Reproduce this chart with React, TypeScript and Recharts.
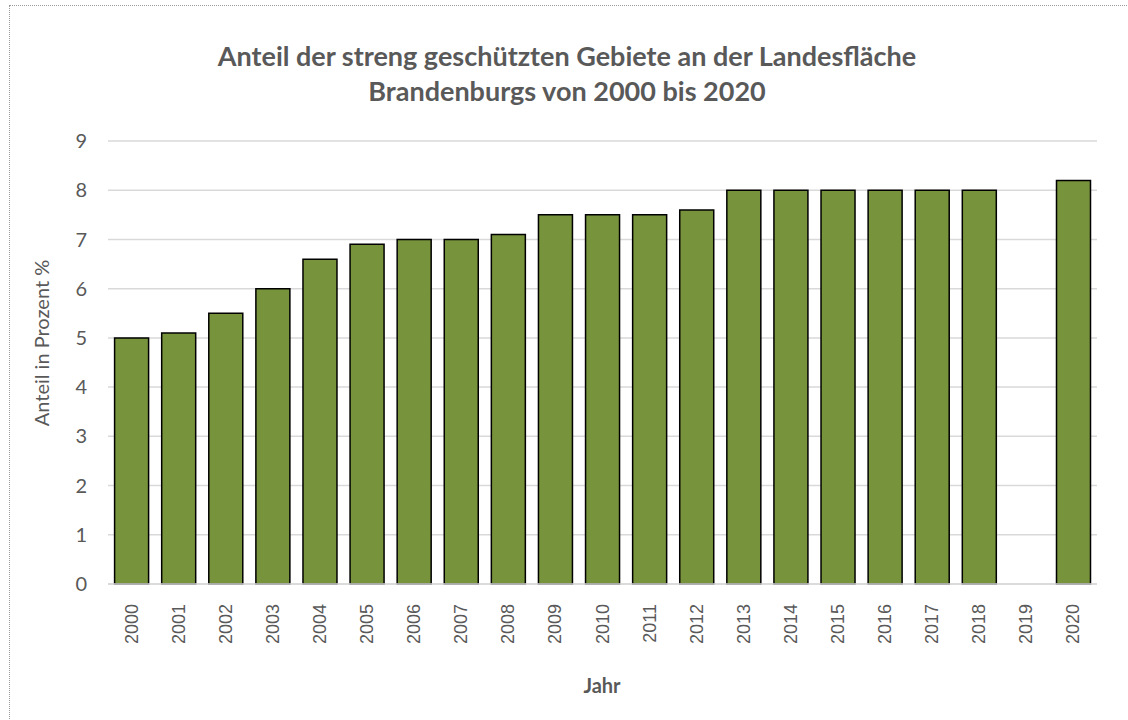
import React from 'react';
import { BarChart, Bar, XAxis, YAxis, CartesianGrid } from 'recharts';

const years = ['2000', '2001', '2002', '2003', '2004', '2005', '2006', '2007', '2008', '2009', '2010',
  '2011', '2012', '2013', '2014', '2015', '2016', '2017', '2018', '2019', '2020'];
const shares: (number | null)[] = [5, 5.1, 5.5, 6, 6.6, 6.9, 7, 7, 7.1, 7.5, 7.5,
  7.5, 7.6, 8, 8, 8, 8, 8, 8, null, 8.2];
const yTicks = [0, 1, 2, 3, 4, 5, 6, 7, 8, 9];

const data = years.map((jahr, i) => ({ jahr, anteil: shares[i] }));

const grey = '#595959';

function YearTick({ x, y, payload }: any) {
  return (
    <text
      x={x}
      y={y + 12}
      transform={`rotate(-90 ${x} ${y + 12})`}
      textAnchor="end"
      dominantBaseline="central"
      fontFamily="Liberation Sans, Arial, sans-serif"
      fontSize={18}
      fill={grey}
    >
      {payload.value}
    </text>
  );
}

export default function App() {
  return (
    <div style={{ position: 'absolute', left: 0, top: 0, width: 1128, height: 720, background: '#fff', overflow: 'hidden' }}>
      <div style={{
        position: 'absolute', left: 9, top: 5, width: 1140, height: 740,
        border: '1px dotted #9a9a9a',
      }} />
      <div style={{
        position: 'absolute', left: 9, top: 38, width: 1116, textAlign: 'center',
        fontFamily: 'Lato, "Open Sans", sans-serif', fontWeight: 700, fontSize: 27,
        lineHeight: '35px', color: grey,
      }}>
        Anteil der streng geschützten Gebiete an der Landesfläche<br />
        Brandenburgs von 2000 bis 2020
      </div>
      <div style={{
        position: 'absolute', left: 41, top: 343, width: 0, height: 0,
      }}>
        <div style={{
          position: 'absolute', transform: 'translate(-50%, -50%) rotate(-90deg)',
          whiteSpace: 'nowrap', fontFamily: 'Lato, sans-serif', fontSize: 20, color: grey,
        }}>
          Anteil in Prozent %
        </div>
      </div>
      <div style={{
        position: 'absolute', left: 502, top: 673, width: 200, textAlign: 'center',
        fontFamily: 'Lato, sans-serif', fontWeight: 700, fontSize: 20, color: grey,
      }}>
        Jahr
      </div>
      <div style={{ position: 'absolute', left: 0, top: 0 }}>
        <BarChart
          width={1128}
          height={720}
          data={data}
          margin={{ top: 141, right: 31, bottom: 56, left: 0 }}
          barCategoryGap="14%"
        >
          <CartesianGrid vertical={false} stroke="#d9d9d9" strokeWidth={1.5} />
          <XAxis
            dataKey="jahr"
            height={80}
            interval={0}
            tickLine={false}
            axisLine={{ stroke: '#d9d9d9', strokeWidth: 1.5 }}
            tick={<YearTick />}
          />
          <YAxis
            width={108}
            domain={[0, 9]}
            ticks={yTicks}
            tickLine={false}
            axisLine={false}
            tickSize={0}
            tickMargin={21}
            tick={{ fill: grey, fontSize: 20, fontFamily: 'Lato, sans-serif' }}
          />
          <Bar dataKey="anteil" fill="#77933C" stroke="#000" strokeWidth={1.5} isAnimationActive={false} />
        </BarChart>
      </div>
    </div>
  );
}
